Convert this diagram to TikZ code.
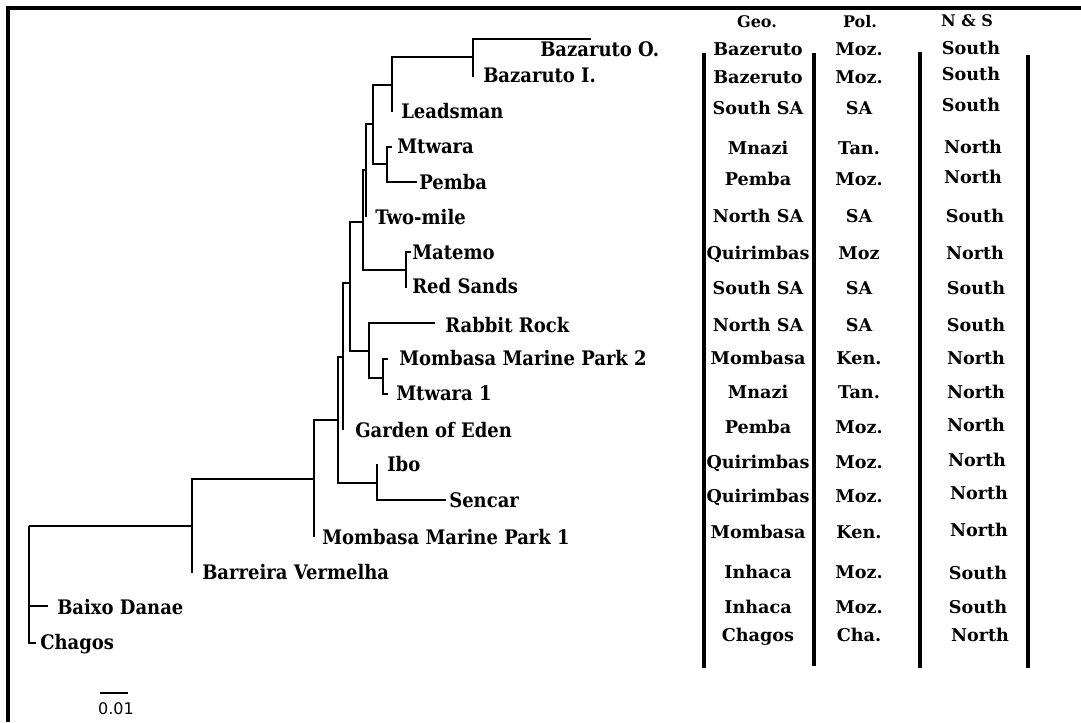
\documentclass[tikz,border=0pt]{standalone}
\usepackage{fontspec}
\setmainfont{DejaVu Serif}
\newfontfamily\treefont{DejaVu Serif Bold}[FakeStretch=0.9]
\newfontfamily\barfont{DejaVu Sans}
\usetikzlibrary{positioning}

\begin{document}
\begin{tikzpicture}[x=0.75pt,y=-0.75pt,
    branch/.style={line width=2.2pt},
    leaf/.style={anchor=west,inner sep=0pt,text height=10.9pt,text depth=0pt,font=\treefont\fontsize{15}{16}\selectfont},
    cell/.style={inner sep=0pt,text height=9.6pt,text depth=0pt,font=\bfseries\fontsize{13.2}{14}\selectfont},
    head/.style={cell,text height=8.7pt,font=\bfseries\fontsize{12}{13}\selectfont},
    colrule/.style={line width=3pt}]
    \useasboundingbox (0,0) rectangle (1081,722);
    \draw[line width=2.6pt] (8,722) -- (8,8) -- (1081,8);

    % branch points
    \coordinate (root) at (29,526);
    \coordinate (nB) at (192,526);
    \coordinate (n314) at (314,479);
    \coordinate (nM) at (338,420);
    \coordinate (nP) at (343,357);
    \coordinate (nQ) at (350,283);
    \coordinate (nN1) at (363,222);
    \coordinate (nN2) at (366,170);
    \coordinate (nC) at (373,124);
    \coordinate (nL) at (392,85);
    \coordinate (nBaz) at (473,57);
    \coordinate (nMP) at (387,164);
    \coordinate (nMR) at (406,270);
    \coordinate (nR) at (369,351);
    \coordinate (nMM) at (383,378);
    \coordinate (nIS) at (377,483);
    % tips
    \coordinate (tBazO) at (591,39);
    \coordinate (tBazI) at (473,77);
    \coordinate (tLead) at (392,112);
    \coordinate (tMtw) at (392,147);
    \coordinate (tPem) at (417,182);
    \coordinate (tTwo) at (366,217);
    \coordinate (tMat) at (411,252);
    \coordinate (tRed) at (406,288);
    \coordinate (tRab) at (435,323);
    \coordinate (tMMP2) at (388,359);
    \coordinate (tMtw1) at (388,394);
    \coordinate (tEden) at (343,430);
    \coordinate (tIbo) at (377,464);
    \coordinate (tSen) at (446,500);
    \coordinate (tMMP1) at (314,537);
    \coordinate (tBarr) at (192,573);
    \coordinate (tBaixo) at (48,606);
    \coordinate (tChag) at (36,643);

    \draw[branch] (root) |- (nB) (root) |- (tBaixo) (root) |- (tChag)
        (nB) |- (n314) (nB) |- (tBarr)
        (n314) |- (nM) (n314) |- (tMMP1)
        (nM) |- (nP) (nM) |- (nIS)
        (nP) |- (nQ) (nP) |- (tEden)
        (nQ) |- (nN1) (nQ) |- (nR)
        (nN1) |- (nN2) (nN1) |- (nMR)
        (nN2) |- (nC) (nN2) |- (tTwo)
        (nC) |- (nL) (nC) |- (nMP)
        (nL) |- (nBaz) (nL) |- (tLead)
        (nBaz) |- (tBazO) (nBaz) |- (tBazI)
        (nMP) |- (tMtw) (nMP) |- (tPem)
        (nMR) |- (tMat) (nMR) |- (tRed)
        (nR) |- (tRab) (nR) |- (nMM)
        (nMM) |- (tMMP2) (nMM) |- (tMtw1)
        (nIS) |- (tIbo) (nIS) |- (tSen);

    % leaf labels
    \node[leaf] (bazO) at (540,49) {Bazaruto O.};
    \node[leaf] (bazI) at (483,75) {Bazaruto I.};
    \node[leaf] (lead) at (401,111) {Leadsman};
    \node[leaf] (mtw) at (397,146) {Mtwara};
    \node[leaf] (pem) at (419,182) {Pemba};
    \node[leaf] (two) at (375,217) {Two-mile};
    \node[leaf] (mat) at (412,252) {Matemo};
    \node[leaf] (red) at (412,286) {Red Sands};
    \node[leaf] (rab) at (445,325) {Rabbit Rock};
    \node[leaf] (mmp2) at (399,358) {Mombasa Marine Park 2};
    \node[leaf] (mtw1) at (396,393) {Mtwara 1};
    \node[leaf] (eden) at (355,430) {Garden of Eden};
    \node[leaf] (ibo) at (387,464) {Ibo};
    \node[leaf] (sen) at (449,500) {Sencar};
    \node[leaf] (mmp1) at (322,537) {Mombasa Marine Park 1};
    \node[leaf] (barr) at (202,572) {Barreira Vermelha};
    \node[leaf] (baixo) at (57,607) {Baixo Danae};
    \node[leaf] (chag) at (40,642) {Chagos};

    % scale bar
    \coordinate (barL) at (100,693);
    \coordinate (barR) at (128,693);
    \draw[line width=1pt] (barL) -- (barR);
    \node[inner sep=0pt,font=\barfont\fontsize{12}{13}\selectfont] (barlab) at (116,709) {0.01};

    % columns
    \draw[colrule] (704,53) -- (704,668);
    \draw[colrule] (814,53) -- (814,666);
    \draw[colrule] (920,52) -- (920,668);
    \draw[colrule] (1028,55) -- (1028,668);
    \node[head] (geoH) at (757,22) {Geo.};
    \node[head] (polH) at (860,22) {Pol.};
    \node[head] (nsH) at (967,21) {N \& S};
    \foreach \yg/\g/\p/\sx/\sy/\s [count=\i] in {
        49/Bazeruto/Moz./971/48/South,
        77/Bazeruto/Moz./971/74/South,
        108/South SA/SA/971/105/South,
        148/Mnazi/Tan./973/147/North,
        179/Pemba/Moz./973/177/North,
        216/North SA/SA/975/216/South,
        253/Quirimbas/Moz/975/253/North,
        288/South SA/SA/976/288/South,
        325/North SA/SA/976/325/South,
        358/Mombasa/Ken./976/358/North,
        392/Mnazi/Tan./976/392/North,
        427/Pemba/Moz./976/425/North,
        462/Quirimbas/Moz./977/460/North,
        496/Quirimbas/Moz./979/493/North,
        532/Mombasa/Ken./979/530/North,
        572/Inhaca/Moz./978/573/South,
        607/Inhaca/Moz./978/607/South,
        635/Chagos/Cha./980/635/North}
    {
        \node[cell] (geo\i) at (758,\yg) {\g};
        \node[cell] (pol\i) at (859,\yg) {\p};
        \node[cell] (ns\i) at (\sx,\sy) {\s};
    }
\end{tikzpicture}
\end{document}
